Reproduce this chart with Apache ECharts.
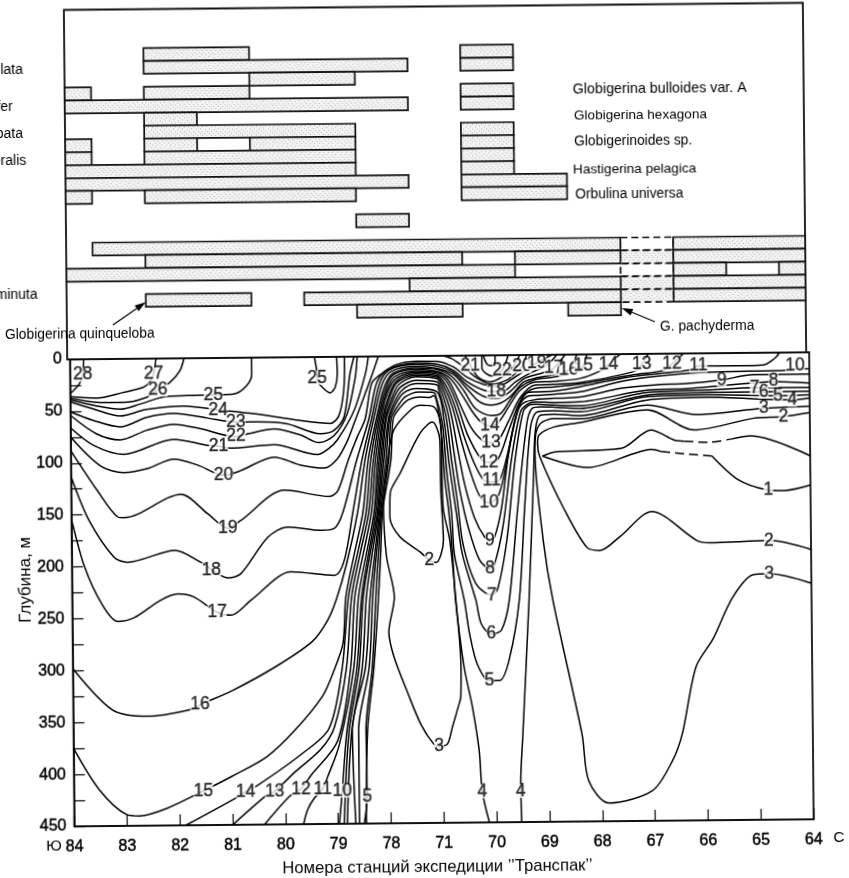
<!DOCTYPE html>
<html><head><meta charset="utf-8">
<style>html,body{margin:0;padding:0;background:#fff;overflow:hidden}#c{width:849px;height:878px;transform:rotate(-0.55deg);transform-origin:50% 50%}</style>
<script src="https://cdn.jsdelivr.net/npm/echarts@6/dist/echarts.min.js"></script></head>
<body><div id="c"></div>
<script>
const stations=['84','83','82','81','80','79','78','71','70','69','68','67','66','65','64'];
const shadedBars=[[3,1.5,3.5],[3,7.5,8.5],[4,1.5,6.5],[4,7.5,8.5],[5,3.5,5.5],[6,0,0.5],[6,1.5,3.5],[6,7.5,8.5],[7,0,6.5],[7,7.5,8.5],[8,1.5,2.5],[9,1.5,5.5],[9,7.5,8.5],[10,0,0.5],[10,1.5,2.5],[10,3.5,5.5],[10,7.5,8.5],[11,0,0.5],[11,1.5,5.5],[11,7.5,8.5],[12,0,5.5],[12,7.5,8.5],[13,0,6.5],[13,7.5,9.5],[14,0,0.5],[14,1.5,5.5],[14,7.5,9.5],[16,5.5,6.5],[18,0.5,10.5],[18,11.5,14],[19,1.5,7.5],[19,8.5,10.5],[19,11.5,14],[20,0,8.5],[20,11.5,12.5],[20,13.5,14],[21,6.5,10.5],[21,11.5,14],[22,1.5,3.5],[22,4.5,10.5],[22,11.5,14],[23,5.5,7.5],[23,9.5,10.5]];
const dashedShaded=[[19,10.5,11.5],[21,10.5,11.5],[22,10.5,11.5]];
const dashedEmpty=[[18,10.5,11.5],[20,10.5,11.5]];

const iso28=[[0,33],[0.17,24],[0.24,15],[0.26,0]];
const iso27=[[0,36],[0.49,37.6],[1,32.4],[1.38,27.7],[1.5,23],[1.58,15],[1.63,0]];
const iso26=[[0,37.5],[0.56,41.8],[1,42],[1.44,37.3],[1.66,30],[1.89,23],[2.08,12],[2.16,0]];
const iso25=[[0,39],[0.49,45],[0.94,48.4],[1.32,43.7],[1.76,37],[2.2,36],[2.71,35.5],[3.09,35],[3.34,27],[3.44,16],[3.44,0]];
const iso25Loop=[[4.63,0],[4.67,13],[4.68,22],[4.77,29],[4.92,34.6],[5.02,29],[5.06,16],[5.05,0]];
const iso24=[[0,41],[0.43,48],[0.94,55],[1.44,49],[2.14,46],[2.8,50],[3.47,54],[4.35,61],[4.92,64],[5.08,57],[5.18,32],[5.2,0]];
const iso23=[[0,50.6],[0.43,59],[0.94,65.5],[1.44,56.6],[1.95,53],[2.58,57.7],[3.13,62],[3.53,62],[4.1,64],[4.73,74],[4.99,70.8],[5.18,58],[5.3,16.5],[5.38,0]];
const iso22=[[0,54],[0.49,72],[0.94,78],[1.44,69],[1.95,63.5],[2.46,68],[3.12,76],[3.34,73.5],[3.85,69],[4.35,75],[4.7,82.5],[4.99,75.7],[5.24,54.9],[5.4,19.8],[5.44,0]];
const iso22East=[[7.8,0],[7.8,12],[7.99,20],[8.18,14.5],[8.3,0]];
const iso23Loop=[[7.83,0],[7.89,7.9],[7.97,10],[8.05,6.2],[8.05,0]];
const iso21=[[0,66],[0.43,83],[1,92],[1.95,78],[2.58,84],[2.8,85],[3.03,87],[3.85,84],[4.67,94],[4.89,88],[5.05,80],[5.37,52],[5.59,17],[5.65,0]];
const iso21East=[[7.48,0],[7.58,9.4],[7.73,21],[7.96,25.5],[8.27,17.7],[8.43,8],[8.52,0]];
const iso20=[[0,75],[0.56,103],[1,109.5],[1.44,106],[1.95,97],[2.4,103],[2.89,113],[3.2,109],[3.85,96],[4.35,104],[4.8,107],[5.05,98],[5.24,81],[5.37,64],[5.68,23],[5.84,0]];
const iso20East=[[7.07,0],[7.23,2.8],[7.45,10.6],[7.7,21.5],[7.99,27.9],[8.27,24],[8.43,17.8],[8.56,11],[8.65,0]];
const iso19=[[0,88],[0.5,127],[0.87,152],[1,153],[2.08,131],[2.58,150],[2.96,164],[3.2,157],[4.04,128],[4.89,134.5],[5.05,129],[5.25,100],[5.43,77],[5.58,60],[5.71,26],[5.9,16.6],[6.19,7.8],[6.57,5],[6.95,5.2],[7.26,10.8],[7.51,20.6],[7.83,28],[8.1,30],[8.46,20],[8.68,13],[8.84,7.5],[9.13,0]];
const iso18=[[0,113],[0.33,155],[0.8,191],[1.06,196],[1.95,185],[2.45,197],[2.96,212],[3.2,208],[3.72,173],[4.1,163.5],[4.73,167],[4.98,165],[5.14,150],[5.41,100],[5.65,60],[5.8,26],[6,13],[6.55,6.7],[6.95,8],[7.26,14],[7.51,25],[7.83,33.5],[8.07,35],[8.24,34],[8.43,26],[8.71,17.5],[9.03,10],[9.22,0]];
const iso17=[[0,154],[0.24,200],[0.56,236],[0.86,253],[1.17,249.5],[1.67,233],[2,227],[2.3,230],[2.74,245],[3,248],[3.4,233],[4.15,206.7],[4.97,210.5],[5.16,196],[5.33,150],[5.51,100],[5.7,60],[5.86,26],[6.05,13],[6.55,8.3],[6.95,10],[7.26,16],[7.51,28.3],[7.77,38],[7.99,41.5],[8.15,41],[8.33,35],[8.59,23],[8.9,18],[9.03,16],[9.16,13],[9.38,0]];
const iso16=[[0,298],[0.74,338],[1.43,344.6],[2.26,338],[2.4,334],[3,321],[3.84,298],[4.54,274],[4.83,254],[5,234],[5.2,200],[5.42,150],[5.57,100],[5.74,60],[5.9,28],[6.07,15],[6.55,10],[6.95,12],[7.26,18],[7.48,30],[7.73,44],[7.97,48],[8.15,46],[8.33,40],[8.59,26],[8.84,22],[9.16,19],[9.44,15],[9.6,0]];
const iso15=[[0,375],[0.48,415],[0.99,439],[1.24,440.5],[1.75,433.6],[2.45,417],[3,403],[3.66,384.6],[4.2,359],[4.72,327],[4.93,304],[5.12,276],[5.18,232],[5.35,190],[5.52,150],[5.63,100],[5.79,60],[5.93,32],[6.1,17],[6.55,11.5],[6.95,13],[7.23,20],[7.45,33.5],[7.67,51],[7.97,58],[8.15,56],[8.33,43],[8.52,31],[8.78,24],[9.16,21.5],[9.6,16.5],[9.72,11],[9.79,0]];
const iso14=[[2.11,450],[3.03,425],[3.25,418],[3.48,412],[4.3,383],[4.84,358],[5.1,300],[5.23,232],[5.41,190],[5.58,150],[5.68,100],[5.82,60],[5.96,33],[6.12,18],[6.55,13],[6.95,15],[7.2,22],[7.42,38],[7.61,54],[7.77,64],[7.94,68],[8.11,64],[8.32,48],[8.52,34],[8.81,26],[9.16,25.5],[9.66,23],[10.04,16],[10.2,10],[10.42,0]];
const iso13=[[3,450],[3.64,422],[3.8,418],[4.18,400],[4.68,378],[4.94,357],[5.18,300],[5.29,232],[5.46,190],[5.63,150],[5.73,100],[5.85,60],[5.98,35],[6.14,20],[6.55,14.4],[6.95,16],[7.17,24],[7.37,46],[7.58,69],[7.8,82],[7.96,84],[8.11,81],[8.3,63],[8.52,41],[8.81,29],[9.16,28.5],[9.66,27],[10.67,17],[10.83,10],[10.95,0]];
const iso12=[[3.6,450],[4.08,423],[4.3,416],[4.49,403],[5,370],[5.26,300],[5.35,232],[5.52,190],[5.68,150],[5.77,100],[5.88,60],[6,36],[6.16,22],[6.55,15.7],[6.95,17.5],[7.14,25.5],[7.32,46.5],[7.51,75.5],[7.77,100],[7.91,103],[8.09,100],[8.3,72],[8.49,47],[8.65,36],[8.81,32],[9.16,31],[9.66,28.5],[10.67,20],[11.24,16],[11.4,10],[11.62,0]];
const iso11=[[4.34,450],[4.42,436],[4.55,425],[4.71,416],[4.81,404],[5.03,374],[5.32,300],[5.42,232],[5.58,190],[5.73,150],[5.81,100],[5.91,60],[6.03,38],[6.18,24],[6.55,17],[6.95,19],[7.1,27],[7.26,46],[7.45,78],[7.64,104],[7.82,120.5],[7.96,122],[8.11,120.5],[8.27,95],[8.43,59.5],[8.59,38],[8.81,35.6],[9.16,35],[9.66,31],[10.42,23.5],[11.05,19.5],[11.74,16],[11.9,12],[12.63,12.4],[13.13,11.7],[13.35,5.3],[13.44,0]];
const iso10=[[5.02,450],[5.08,418],[5.18,360],[5.38,300],[5.48,232],[5.62,190],[5.76,150],[5.84,100],[5.93,60],[6.05,39],[6.2,25],[6.55,18.6],[6.95,20.5],[7.07,28.5],[7.23,49],[7.39,81],[7.55,110],[7.74,136],[7.91,142],[8.08,136],[8.21,114],[8.37,72.5],[8.52,47],[8.65,40],[8.81,39],[9.16,38],[9.66,36],[10.42,26.5],[11.05,22],[11.93,18.5],[13.57,17],[13.73,16],[14,16]];
const iso9=[[5.11,450],[5.22,360],[5.42,300],[5.51,232],[5.65,190],[5.79,150],[5.87,100],[5.96,60],[6.08,41],[6.23,27],[6.55,20],[6.95,22],[7.04,30],[7.19,52.5],[7.32,88],[7.45,123.5],[7.63,156],[7.82,175],[7.92,178],[8.01,175],[8.15,146],[8.28,98],[8.46,55],[8.59,46],[8.81,43],[9.16,42],[9.66,41],[10.42,33],[11.05,30],[11.68,29],[12.34,25.8],[12.94,21],[14,21]];
const iso8=[[5.17,450],[5.27,360],[5.48,300],[5.57,232],[5.69,190],[5.81,150],[5.9,100],[5.98,60],[6.1,43],[6.25,30],[6.55,23.4],[6.95,25],[7.01,31.5],[7.15,56],[7.26,94.5],[7.36,130],[7.51,165],[7.72,197],[7.92,205.5],[8,202],[8.17,165],[8.35,98],[8.52,55],[8.65,47.5],[8.81,45.3],[9.16,46],[9.66,45.6],[10.92,35],[11.68,34],[12.31,31.5],[12.94,29],[13.32,28],[14,29.6]];
const iso7=[[5.33,450],[5.28,360],[5.54,300],[5.64,232],[5.74,190],[5.83,150],[5.93,100],[6.02,60],[6.13,45],[6.28,33],[6.55,26.6],[6.95,28],[6.98,33],[7.11,59],[7.21,100.8],[7.31,139.5],[7.41,181.5],[7.65,220],[7.945,231],[8.06,225],[8.24,178.5],[8.41,101.5],[8.57,55],[8.68,48.5],[8.81,47.5],[9.16,48.5],[9.66,49.5],[10.92,37],[12.06,35.5],[12.96,33.5],[14,34]];
const iso6=[[5.4,450],[5.4,360],[5.61,300],[5.69,232],[5.77,190],[5.85,150],[5.97,100],[6.04,60],[6.16,46],[6.3,36],[6.55,31.4],[6.95,35],[7.07,62],[7.17,107.2],[7.29,152],[7.395,191],[7.645,236],[7.74,258.5],[7.93,268.5],[8.12,265],[8.275,236.5],[8.455,146],[8.64,66],[8.74,51.6],[8.9,50],[9.16,50.5],[9.66,52],[10.92,39.7],[12.06,37.9],[13.13,37.5],[14,37.6]];
const iso5=[[5.49,450],[5.55,424],[5.54,360],[5.67,300],[5.75,232],[5.81,190],[5.87,150],[6.02,100],[6.07,60],[6.2,48],[6.35,39],[6.6,34.6],[6.85,35],[6.91,36.5],[7.04,65.5],[7.12,113.7],[7.2,152],[7.245,191],[7.425,236],[7.52,268.5],[7.66,297.5],[7.886,313.5],[8.076,313.5],[8.26,294],[8.465,236.5],[8.585,146.5],[8.71,69.3],[8.84,54.9],[9.16,54],[9.66,55.2],[10.92,41.3],[12.06,40],[13.4,41.6],[14,41]];
const iso4=[[5.53,450],[5.57,360],[5.7,300],[5.8,232],[5.85,190],[5.89,150],[6.06,100],[6.11,60],[6.25,49],[6.4,42],[6.6,39.4],[6.8,40],[6.88,38],[7.01,68.7],[7.08,120],[7.15,152],[7.21,191],[7.26,236],[7.41,300.4],[7.56,339],[7.68,381],[7.73,420],[7.86,450]];
const iso4East=[[8.47,450],[8.46,413],[8.51,365],[8.65,236.5],[8.76,114.4],[8.8,72.6],[8.9,58],[9.16,57.3],[9.66,59],[10.92,44.5],[12.06,42.5],[13.67,45.6],[14,44]];
const iso3Tongue=[[6.92,376.5],[6.82,374],[6.59,356],[6.34,325],[6.08,289],[5.99,266],[6.1,232],[5.96,193],[5.91,145],[6,100],[6.12,71],[6.44,52],[6.63,47.5],[6.88,49],[7.01,67],[7.04,146],[7.16,178],[7.265,236],[7.35,300],[7.34,329],[7.31,335],[7.175,358],[7.08,374],[6.92,376.5]];
const iso3East=[[14,222.6],[13.2,213],[12.89,214],[12.5,236],[12.13,275],[11.8,302],[11.53,366],[11.34,392],[10.95,421],[10.13,432.5],[9.75,411],[9.63,366],[9.1,236],[8.93,178.8],[8.79,95],[8.8,79],[8.9,66],[9.16,61.5],[9.66,62],[10.92,49.3],[11.87,59],[13.13,53.5],[14,52]];
const iso2Tongue=[[6.77,197],[6.59,188.5],[6.215,174],[6.03,155],[6.04,132],[6.23,113],[6.62,74],[6.85,63.7],[6.99,81],[7,130],[7.04,178],[6.9,199],[6.77,197]];
const iso2East=[[14,190],[13.2,181],[12.08,182.6],[11.83,180],[10.99,152],[10.38,176],[10,189],[9.75,185.6],[9.31,146.7],[8.88,98],[8.84,85],[8.87,77],[9.16,69.5],[9.66,65.5],[10.92,54],[11.81,73.8],[12.94,63],[13.5,61.6],[14,58]];
const iso1UpperA=[[8.93,97.6],[9.16,93.6],[10.42,90.9],[10.99,73.5],[11.43,83.3],[11.62,84.5]];
const iso1UpperDash=[[11.62,84.5],[12.06,85.8],[12.5,83]];
const iso1UpperB=[[12.5,83],[12.88,80],[14,99.7]];
const iso1LowerA=[[8.93,97.6],[9.79,109],[10.67,95.9],[10.99,92],[11.18,94.3]];
const iso1LowerDash=[[11.18,94.3],[11.7,97],[12.14,99]];
const iso1LowerB=[[12.14,99],[12.63,122],[13.17,132],[13.5,133],[14,128]];

const solidLines=[iso28,iso27,iso26,iso25,iso25Loop,iso24,iso23,iso23Loop,iso22,iso22East,iso21,iso21East,iso20,iso20East,iso19,iso18,iso17,iso16,iso15,iso14,iso13,iso12,iso11,iso10,iso9,iso8,iso7,iso6,iso5,iso4,iso4East,iso3Tongue,iso3East,iso2Tongue,iso2East,iso1UpperA,iso1UpperB,iso1LowerA,iso1LowerB];
const dashedLines=[iso1UpperDash,iso1LowerDash];

const isoLabels=[[0.24,15,'28'],[1.58,15,'27'],[1.66,30,'26'],[2.71,35.5,'25'],[4.68,20,'25'],[2.8,50,'24'],[3.13,62,'23'],[3.13,75,'22'],[2.8,85,'21'],[2.89,113,'20'],[2.96,164,'19'],[2.64,204,'18'],[2.74,245,'17'],[2.4,334,'16'],[2.45,417,'15'],[3.25,418,'14'],[3.8,418,'13'],[4.3,416,'12'],[4.71,416,'11'],[5.08,418,'10'],[5.55,424,'5'],[7.58,9.4,'21'],[8.18,14.5,'22'],[8.07,35,'18'],[8.56,11,'20'],[8.84,7.5,'19'],[9.16,13,'17'],[9.44,15,'16'],[9.72,11,'15'],[10.2,10,'14'],[10.83,10,'13'],[11.4,10,'12'],[11.9,12,'11'],[13.73,12.9,'10'],[12.34,25.8,'9'],[13.32,27,'8'],[12.96,33.5,'7'],[13.13,37.5,'6'],[13.4,41.6,'5'],[13.67,45.6,'4'],[13.13,53.5,'3'],[13.5,61.6,'2'],[13.2,132,'1'],[13.2,181,'2'],[13.2,213,'3'],[7.94,68,'14'],[7.96,84,'13'],[7.91,103,'12'],[7.96,121,'11'],[7.91,142,'10'],[7.92,178,'9'],[7.92,205,'8'],[7.945,231,'7'],[7.93,268,'6'],[7.886,313,'5'],[7.73,420,'4'],[8.46,420,'4'],[6.92,376,'3'],[6.77,197,'2']];

const FONT='"Liberation Sans"';
const ink='#000';
const tile=document.createElement('canvas');tile.width=tile.height=9;
(function(){const g=tile.getContext('2d');g.fillStyle='#f2f2f2';g.fillRect(0,0,9,9);g.fillStyle='#bdbdbd';
 [[1,1],[5,0],[3,3],[7,3],[0,5],[5,5],[2,7],[7,7]].forEach(p=>g.fillRect(p[0],p[1],1,1));})();
const speckle={image:tile,repeat:'repeat'};
function barSeries(data,fill,dash,z){return{type:'custom',xAxisIndex:0,yAxisIndex:0,z:z,silent:true,clip:false,data:data,
  encode:{x:[1,2],y:0},
  renderItem:(p,api)=>{const a=api.coord([api.value(1),api.value(0)]),b=api.coord([api.value(2),api.value(0)+1]);
    return{type:'rect',shape:{x:a[0],y:a[1],width:b[0]-a[0],height:b[1]-a[1]},style:{fill:fill,stroke:'#111',lineWidth:1.7,lineDash:dash}};}};}
function txt(x,y,s,size,align,rot){return{type:'text',x:x,y:y,rotation:rot||0,silent:true,z:50,style:{text:s,font:size+'px '+FONT,fill:ink,textAlign:align||'left',textVerticalAlign:'middle'}};}
function arrow(x0,y0,x1,y1){const a=Math.atan2(y1-y0,x1-x0),L=11,W=3.5,bx=x1-L*Math.cos(a),by=y1-L*Math.sin(a),nx=-Math.sin(a)*W,ny=Math.cos(a)*W;
  return[{type:'line',silent:true,z:50,shape:{x1:x0,y1:y0,x2:bx,y2:by},style:{stroke:ink,lineWidth:1.2}},
         {type:'polygon',silent:true,z:50,shape:{points:[[x1,y1],[bx+nx,by+ny],[bx-nx,by-ny]]},style:{fill:ink}}];}

const series=[barSeries(dashedEmpty,'#fff',[7,4],3),barSeries(dashedShaded,speckle,[7,4],3),barSeries(shadedBars,speckle,null,4)];
solidLines.forEach(d=>series.push({type:'line',xAxisIndex:1,yAxisIndex:1,data:d,smooth:0.3,symbol:'none',silent:true,z:5,lineStyle:{color:ink,width:1.5}}));
dashedLines.forEach(d=>series.push({type:'line',xAxisIndex:1,yAxisIndex:1,data:d,smooth:0.3,symbol:'none',silent:true,z:5,lineStyle:{color:ink,width:1.5,type:[9,5]}}));
series.push({type:'scatter',xAxisIndex:1,yAxisIndex:1,data:isoLabels,symbolSize:1,itemStyle:{color:'transparent'},silent:true,z:8,clip:false,
  label:{show:true,position:'inside',formatter:p=>p.value[2],color:'#000',fontFamily:FONT,fontSize:17.5,backgroundColor:'#fff',padding:[0,0,0,0],lineHeight:14,textBorderColor:'#000',textBorderWidth:0.4}});

const gfx=[
 txt(26.5,66,'lata',14,'right'),txt(16,103,'fer',14,'right'),txt(26,130,'bata',14,'right'),txt(29,157,'eralis',14,'right'),txt(39,291,'minuta',14,'right'),
 txt(576,91.5,'Globigerina bulloides var. A',14.3),txt(577,117.5,'Globigerina hexagona',13.6),txt(577,143.5,'Globigerinoides sp.',13.8),txt(575.6,171.5,'Hastigerina pelagica',13.6),txt(577.5,196.5,'Orbulina universa',13.8),
 txt(6,331,'Globigerina quinqueloba',13.8),txt(661,329,'G. pachyderma',13.8),
 ...arrow(114,322,147,299.5),...arrow(656,324,623,310),
 txt(24,576,'Глубина, м',17,'center',Math.PI/2),
 txt(50,843,'Ю',15.5,'center'),txt(835,842,'С',15.5,'center'),
 txt(433.4,867,'Номера станций экспедиции ’’Транспак’’',16.6,'center')
];

echarts.init(document.getElementById('c'),null,{renderer:'canvas'}).setOption({
 animation:false,backgroundColor:'#fff',
 grid:[{left:68,top:6.5,width:739,height:349.5,show:true,borderColor:'#111',borderWidth:1.8,backgroundColor:'transparent'},
       {left:70.7,top:356,width:739.3,height:467,show:true,borderColor:'#111',borderWidth:1.8,backgroundColor:'transparent'}],
 xAxis:[{gridIndex:0,type:'value',min:0,max:14,show:false},
        {gridIndex:1,type:'value',position:'bottom',min:0,max:14,interval:1,splitLine:{show:false},axisLine:{onZero:false,lineStyle:{color:'#111',width:1.8}},
         axisTick:{inside:true,length:11,lineStyle:{color:ink,width:1.2}},
         axisLabel:{margin:13,color:'#000',fontFamily:FONT,fontSize:16,textBorderColor:'#000',textBorderWidth:0.45,showMinLabel:true,showMaxLabel:true,formatter:v=>stations[v]}}],
 yAxis:[{gridIndex:0,type:'value',min:0,max:27,inverse:true,show:false},
        {gridIndex:1,type:'value',min:0,max:450,interval:25,inverse:true,splitLine:{show:false},axisLine:{onZero:false,lineStyle:{color:'#111',width:1.8}},
         axisTick:{inside:true,length:11,lineStyle:{color:ink,width:1.2}},
         axisLabel:{margin:8,color:'#000',fontFamily:FONT,fontSize:16,textBorderColor:'#000',textBorderWidth:0.45,formatter:v=>v%50===0?String(v):''}}],
 series:series,graphic:gfx
});
</script></body></html>
